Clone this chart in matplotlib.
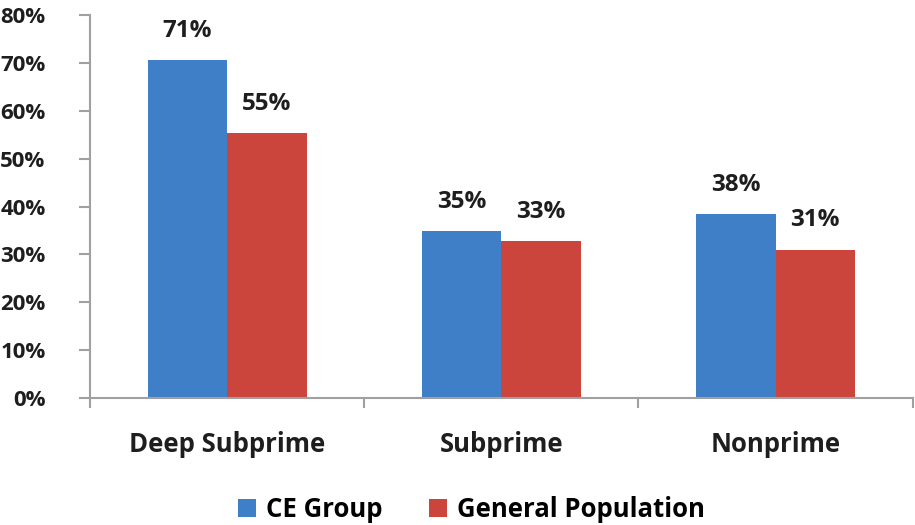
import matplotlib.pyplot as plt
import numpy as np

categories = ['Deep Subprime', 'Subprime', 'Nonprime']
ce_group = [70.6, 34.9, 38.4]
general_pop = [55.3, 32.8, 31.0]
series_names = ['CE Group', 'General Population']
yticks = [0, 10, 20, 30, 40, 50, 60, 70, 80]

plt.rcParams['font.family'] = ['Open Sans', 'DejaVu Sans']
plt.rcParams['font.weight'] = 'bold'

fig = plt.figure(figsize=(9.15, 5.25), dpi=100)
ax = fig.add_axes([0.0984, 0.242, 0.899, 0.729])

x = np.arange(len(categories))
w = 0.29
blue = '#3f7fc7'
red = '#cb453d'
txt = '#1e1e1e'
b1 = ax.bar(x - w / 2, ce_group, w, color=blue, label=series_names[0])
b2 = ax.bar(x + w / 2, general_pop, w, color=red, label=series_names[1])

for bars in (b1, b2):
    for rect in bars:
        h = rect.get_height()
        ax.text(rect.get_x() + rect.get_width() / 2, h + 3.6, f'{round(h):.0f}%',
                ha='center', va='bottom', fontsize=17.5, fontweight='bold', color=txt)

ax.set_xlim(-0.5, len(categories) - 0.5)
ax.set_ylim(0, 80)
ax.set_yticks(yticks)
ax.set_yticklabels([f'{v}%' for v in yticks], fontsize=16, fontweight='bold', color=txt)
ax.set_xticks(x)
ax.set_xticklabels(categories, fontsize=18.5, fontweight='bold', color=txt)
ax.tick_params(axis='x', length=0, pad=24)
ax.tick_params(axis='y', length=8, color='#a0a0a0', width=1.5, pad=24)
# category separator ticks on the x axis
ax.set_xticks(np.arange(-0.5, len(categories)), minor=True)
ax.tick_params(axis='x', which='minor', length=7, color='#a0a0a0', width=1.5)

for s in ['top', 'right']:
    ax.spines[s].set_visible(False)
for s in ['left', 'bottom']:
    ax.spines[s].set_color('#a0a0a0')
    ax.spines[s].set_linewidth(1.5)

fig.legend(loc='lower center', bbox_to_anchor=(0.515, -0.04), ncol=2, frameon=False,
           prop={'size': 18.5, 'weight': 'bold'}, handlelength=0.7, handleheight=0.7,
           handletextpad=0.4, columnspacing=1.8)

fig.savefig('out.png', dpi=100)
